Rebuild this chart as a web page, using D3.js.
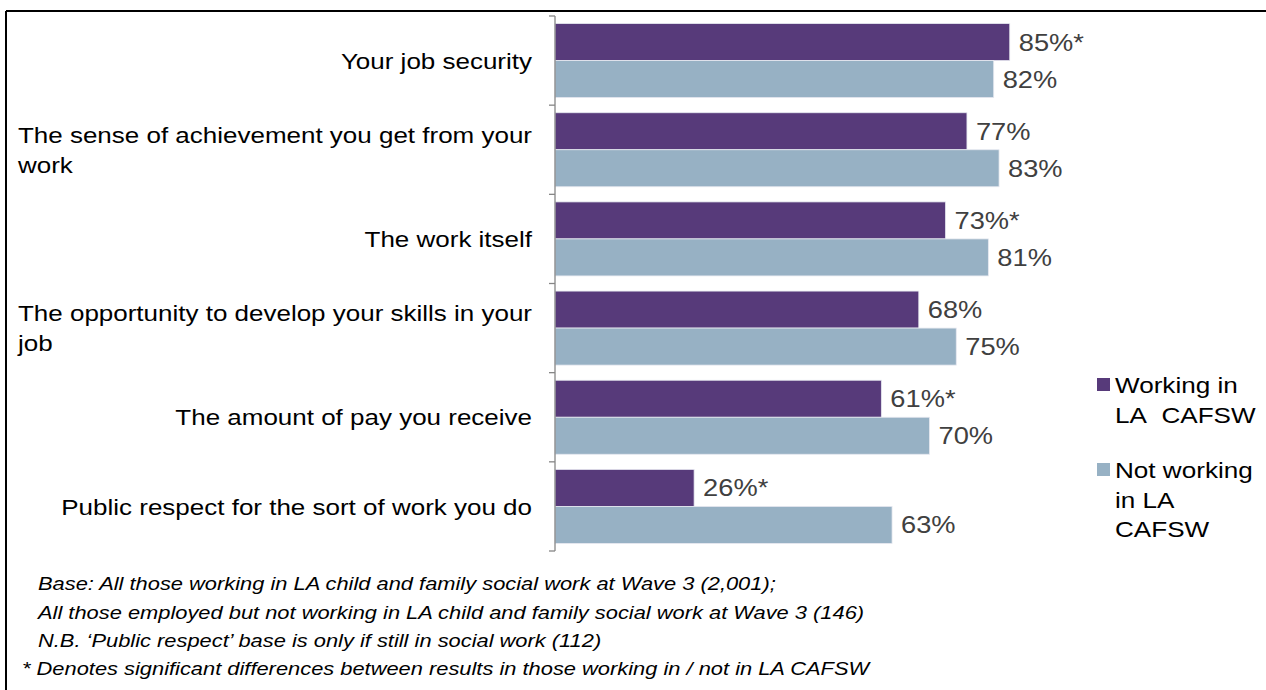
<!DOCTYPE html>
<html><head><meta charset="utf-8">
<script src="https://cdn.jsdelivr.net/npm/d3@7"></script>
<style>body{margin:0;background:#fff}svg{display:block;font-family:"Liberation Sans",Arial,sans-serif}</style>
</head><body><svg id="c" width="1266" height="690"></svg>
<script>
const categories = [
  ["Your job security"],
  ["The sense of achievement you get from your", "work"],
  ["The work itself"],
  ["The opportunity to develop your skills in your", "job"],
  ["The amount of pay you receive"],
  ["Public respect for the sort of work you do"]
];
const seriesNames = [["Working in", "LA\u00a0 CAFSW"], ["Not working", "in LA", "CAFSW"]];
const working = [85, 77, 73, 68, 61, 26];
const notWorking = [82, 83, 81, 75, 70, 63];
const workingSig = [true, false, true, false, true, true];
const notWorkingSig = [false, false, false, false, false, false];
const footnotes = [
  "Base: All those working in LA child and family social work at Wave 3 (2,001);",
  "All those employed but not working in LA child and family social work at Wave 3 (146)",
  "N.B. \u2018Public respect\u2019 base is only if still in social work (112)",
  "* Denotes significant differences between results in those working in / not in LA CAFSW"
];
const colors = ["#573A7A", "#97B1C4"];

const svg = d3.select("#c");
// frame
svg.append("line").attr("x1",6).attr("x2",1266).attr("y1",11).attr("y2",11).attr("stroke","#000").attr("stroke-width",2);
svg.append("line").attr("x1",6).attr("x2",6).attr("y1",11).attr("y2",690).attr("stroke","#000").attr("stroke-width",2);

// text helper: horizontally stretched text
function stext(parent, x, y, str, size, sx, opts={}) {
  const t = parent.append("text")
    .attr("transform", `translate(${x},${y}) scale(${sx},1)`)
    .attr("dy","0.36em").attr("font-size", size)
    .attr("fill", opts.fill || "#000")
    .attr("text-anchor", opts.anchor || "start")
    .text(str);
  if (opts.italic) t.attr("font-style","italic");
  return t;
}

const keys = categories.map((c,i)=>"c"+i);
const x = d3.scaleLinear().domain([0,100]).range([555,1090]);
const y = d3.scaleBand().domain(keys).range([16,551]).paddingInner(0.17).paddingOuter(0.085);
const sub = d3.scaleBand().domain([0,1]).range([0,y.bandwidth()]);

const data = keys.map((k,i)=>({k, vals:[{s:0,v:working[i],sig:workingSig[i]},{s:1,v:notWorking[i],sig:notWorkingSig[i]}]}));

const g = svg.selectAll("g.cat").data(data).join("g").attr("class","cat")
  .attr("transform",d=>`translate(0,${y(d.k)})`);
g.selectAll("rect").data(d=>d.vals).join("rect")
  .attr("x",x(0)).attr("y",d=>sub(d.s)).attr("width",d=>x(d.v)-x(0)).attr("height",sub.bandwidth())
  .attr("fill",d=>colors[d.s]).attr("stroke","#e6e8f0").attr("stroke-width",0.8);
g.each(function(d){
  const gg = d3.select(this);
  d.vals.forEach(v=>{
    stext(gg, x(v.v)+9, sub(v.s)+sub.bandwidth()/2, v.v+"%"+(v.sig?"*":""), 23.5, 1.16, {fill:"#404040"});
  });
});

// axis line with ticks at band boundaries
svg.append("line").attr("x1",x(0)).attr("x2",x(0)).attr("y1",y.range()[0]).attr("y2",y.range()[1]).attr("stroke","#868686").attr("stroke-width",1.3);
const bounds = d3.range(keys.length+1).map(i=>y.range()[0]+i*y.step());
svg.selectAll("line.tk").data(bounds).join("line").attr("class","tk")
  .attr("x1",x(0)-6).attr("x2",x(0)).attr("y1",d=>d).attr("y2",d=>d).attr("stroke","#868686").attr("stroke-width",1.3);

// category labels
const labelRight = 532, labSize = 22.5, labSx = 1.155;
keys.forEach((k,i)=>{
  const lines = categories[i];
  const cy = y(k)+y.bandwidth()/2;
  const lh = 30;
  const ts = lines.map((l,j)=>stext(svg, 0, cy+(j-(lines.length-1)/2)*lh, l, labSize, labSx));
  const w = d3.max(ts.map(t=>t.node().getComputedTextLength()))*labSx;
  ts.forEach((t,j)=>t.attr("transform",`translate(${labelRight-w},${cy+(j-(lines.length-1)/2)*lh}) scale(${labSx},1)`));
});

// legend
const legY = [385, 470];
seriesNames.forEach((lines,i)=>{
  svg.append("rect").attr("x",1097).attr("y",legY[i]-7).attr("width",13).attr("height",13).attr("fill",colors[i]);
  lines.forEach((l,j)=>stext(svg, 1115, legY[i]+j*29.5, l, 22.5, 1.16));
});

// footnotes
footnotes.forEach((f,i)=>stext(svg, i===3?22:38, 584+i*28.3, f, 18, 1.215, {italic:true}));
</script></body></html>
